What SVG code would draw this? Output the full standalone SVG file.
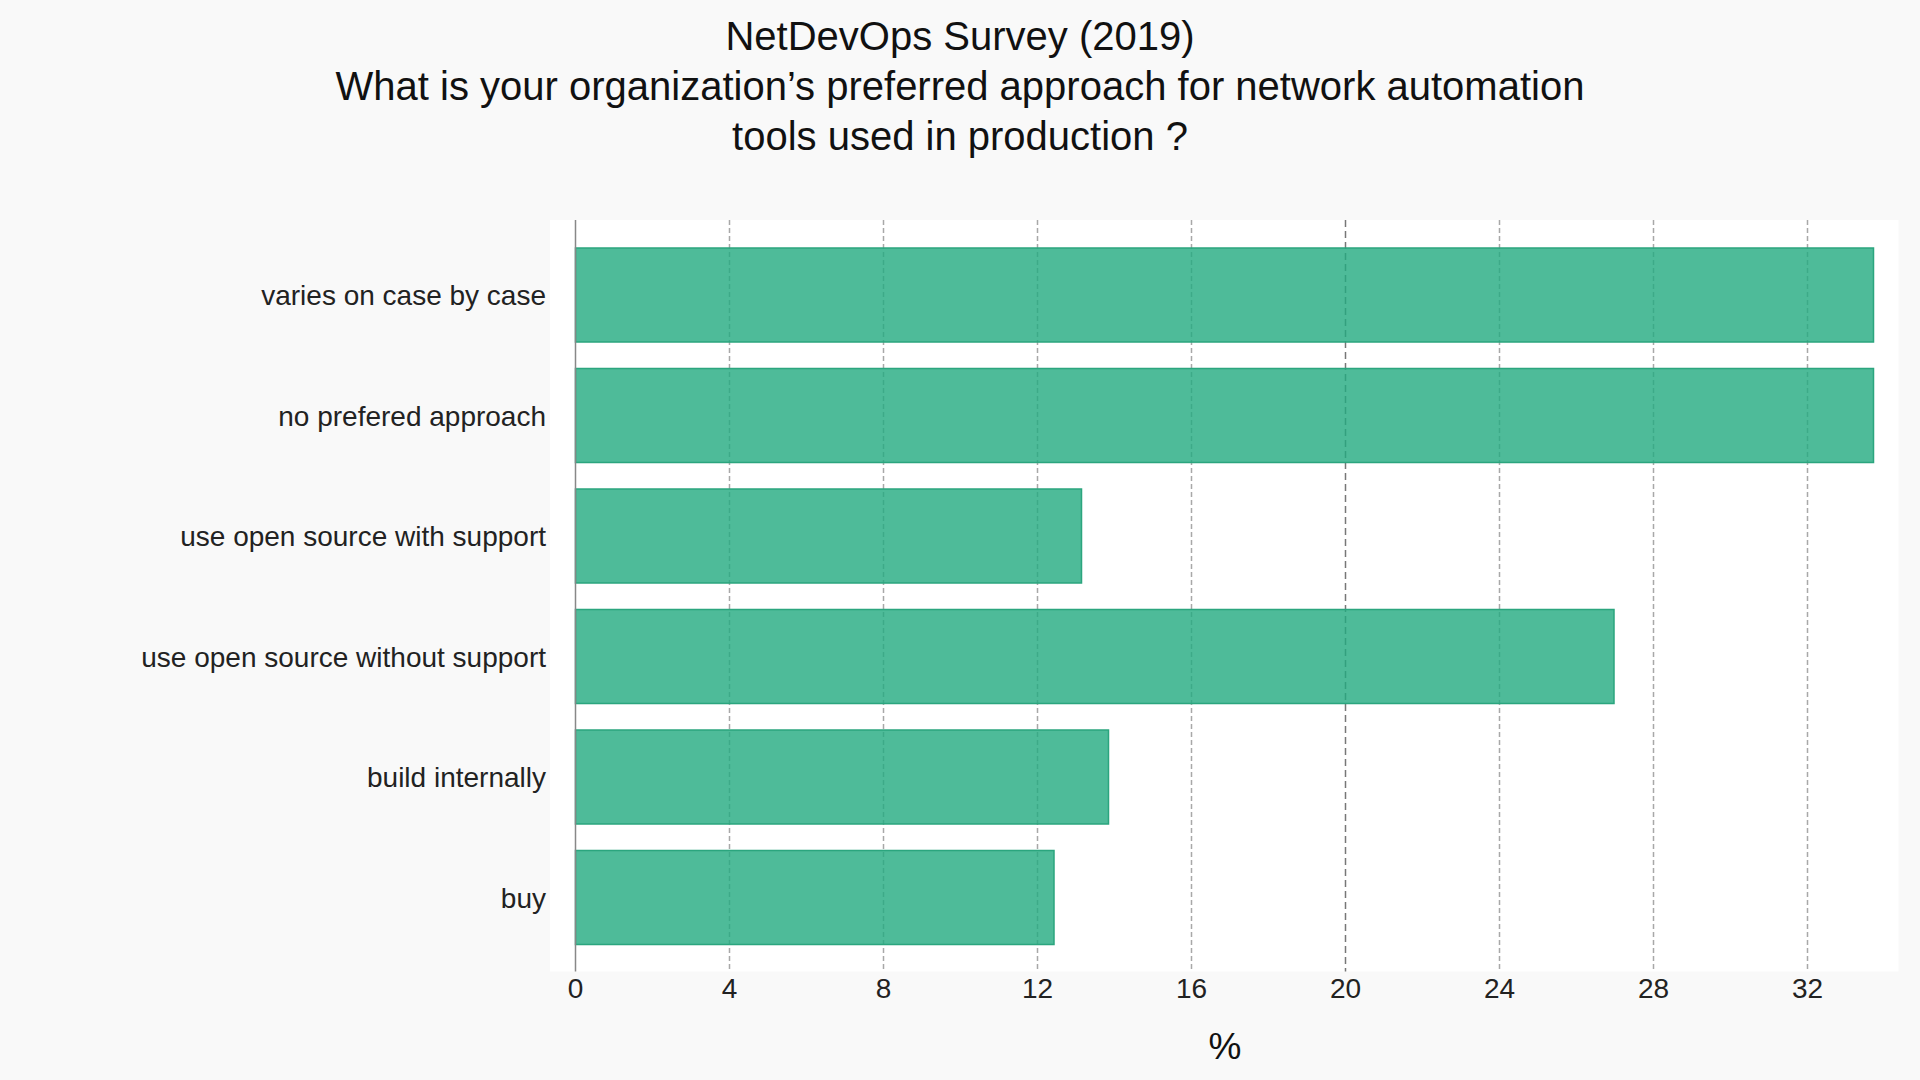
<svg xmlns="http://www.w3.org/2000/svg" width="1920" height="1080" viewBox="0 0 1920 1080">
<style>
.title{font-family:"Liberation Sans",Arial,sans-serif;font-size:40px;fill:#111;text-anchor:middle}
.lbl{font-family:"Liberation Sans",Arial,sans-serif;font-size:28px;fill:#222;text-anchor:end}
.tick{font-family:"Liberation Sans",Arial,sans-serif;font-size:28px;fill:#222;text-anchor:middle}
.axt{font-family:"Liberation Sans",Arial,sans-serif;font-size:37px;fill:#111;text-anchor:middle}
.grid{stroke:#a8a8a8;stroke-width:1.5;stroke-dasharray:5 3;fill:none}
.grid20{stroke:#777;stroke-width:1.5;stroke-dasharray:7 4;fill:none}
.bar{fill:#22aa80;fill-opacity:0.8;stroke:#2ba57e;stroke-width:1.5}
</style>
<rect x="0" y="0" width="1920" height="1080" fill="#f9f9f9"/>
<g id="title">
<text class="title" x="960" y="50">NetDevOps Survey (2019)</text>
<text class="title" x="960" y="100">What is your organization’s preferred approach for network automation</text>
<text class="title" x="960" y="150">tools used in production ?</text>
</g>
<rect id="plot-area" x="550" y="220" width="1348.5" height="751.5" fill="#ffffff"/>
<g id="gridlines">
<line class="grid" x1="729.5" y1="220" x2="729.5" y2="971.5"/>
<line class="grid" x1="883.5" y1="220" x2="883.5" y2="971.5"/>
<line class="grid" x1="1037.5" y1="220" x2="1037.5" y2="971.5"/>
<line class="grid" x1="1191.5" y1="220" x2="1191.5" y2="971.5"/>
<line class="grid20" x1="1345.5" y1="220" x2="1345.5" y2="971.5"/>
<line class="grid" x1="1499.5" y1="220" x2="1499.5" y2="971.5"/>
<line class="grid" x1="1653.5" y1="220" x2="1653.5" y2="971.5"/>
<line class="grid" x1="1807.5" y1="220" x2="1807.5" y2="971.5"/>
</g>
<g id="bar-varies">
<rect class="bar" x="575.5" y="248" width="1298" height="94"/>
<text class="lbl" x="546" y="305">varies on case by case</text>
</g>
<g id="bar-no-preferred">
<rect class="bar" x="575.5" y="368.5" width="1298" height="94"/>
<text class="lbl" x="546" y="425.5">no prefered approach</text>
</g>
<g id="bar-os-with-support">
<rect class="bar" x="575.5" y="489" width="506" height="94"/>
<text class="lbl" x="546" y="546">use open source with support</text>
</g>
<g id="bar-os-without-support">
<rect class="bar" x="575.5" y="609.5" width="1038.5" height="94"/>
<text class="lbl" x="546" y="666.5">use open source without support</text>
</g>
<g id="bar-build">
<rect class="bar" x="575.5" y="730" width="533" height="94"/>
<text class="lbl" x="546" y="787">build internally</text>
</g>
<g id="bar-buy">
<rect class="bar" x="575.5" y="850.5" width="478.5" height="94"/>
<text class="lbl" x="546" y="907.5">buy</text>
</g>
<g id="axis">
<line x1="575.5" y1="220" x2="575.5" y2="971.5" stroke="#888" stroke-width="1.5"/>
<text class="tick" x="575.5" y="997.5">0</text>
<text class="tick" x="729.5" y="997.5">4</text>
<text class="tick" x="883.5" y="997.5">8</text>
<text class="tick" x="1037.5" y="997.5">12</text>
<text class="tick" x="1191.5" y="997.5">16</text>
<text class="tick" x="1345.5" y="997.5">20</text>
<text class="tick" x="1499.5" y="997.5">24</text>
<text class="tick" x="1653.5" y="997.5">28</text>
<text class="tick" x="1807.5" y="997.5">32</text>
<text class="axt" x="1225" y="1059">%</text>
</g>
</svg>
